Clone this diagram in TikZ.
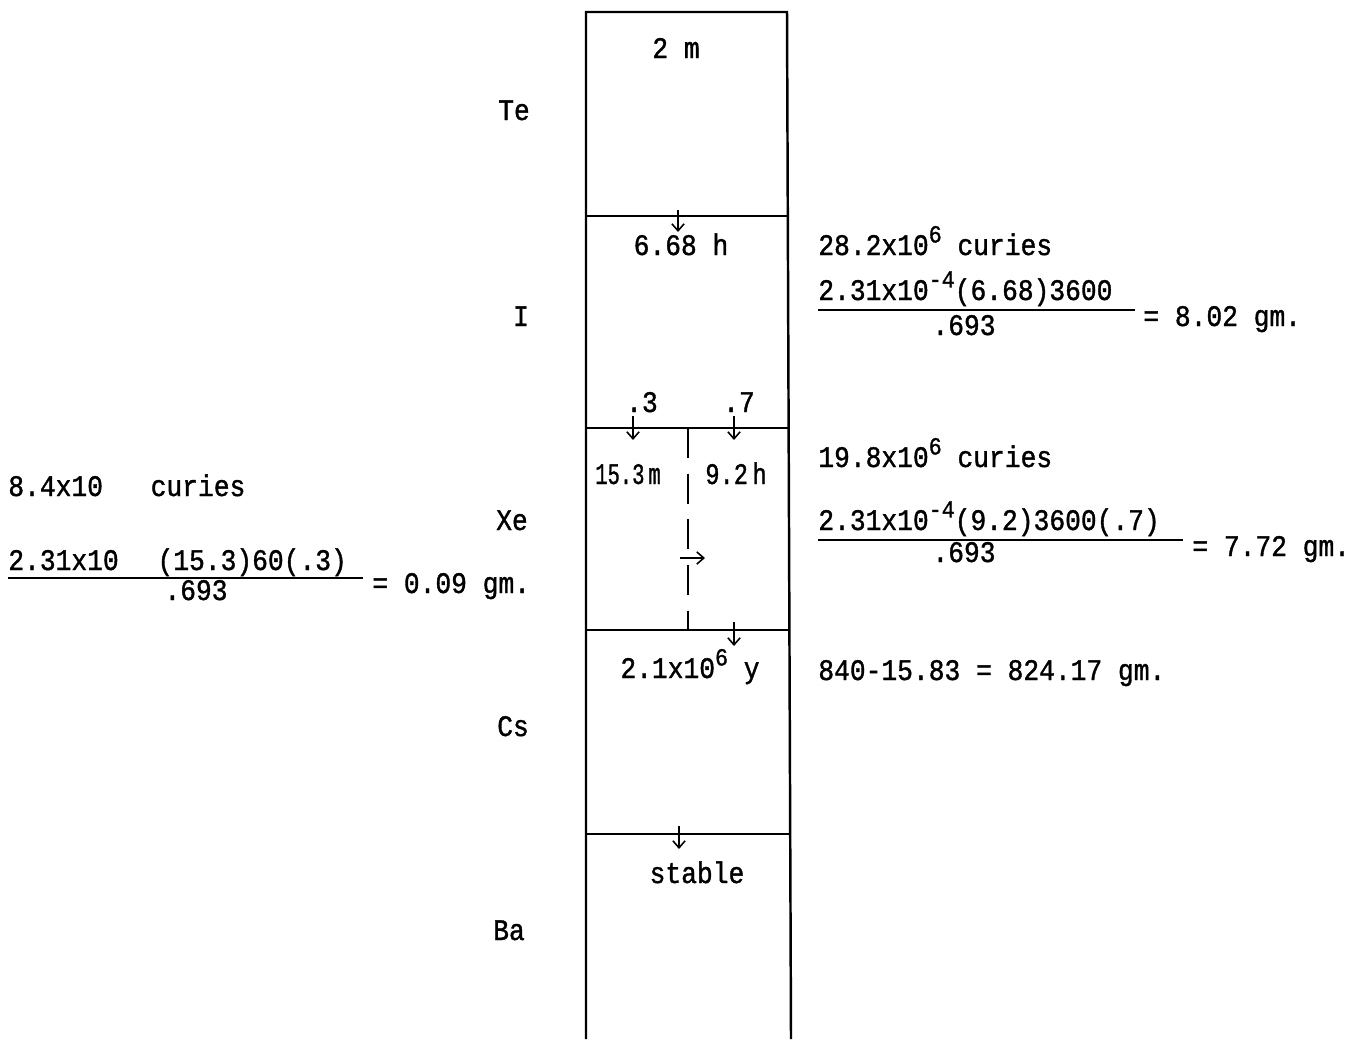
\documentclass[tikz,border=0pt]{standalone}
\usepackage{fontspec}
\setmainfont{Liberation Mono}[FakeStretch=0.88,FakeBold=1.2]
\usetikzlibrary{arrows.meta}
\newcommand{\upx}[1]{\raisebox{0.42em}{\fontsize{14}{16}\selectfont #1}}
\begin{document}
\begin{tikzpicture}[x=0.02cm,y=-0.02cm,
  wall/.style={line width=1.4pt},
  decay/.style={line width=0.9pt,-{Straight Barb[length=4pt,width=7pt]}},
  txt/.style={font=\fontsize{17}{20}\selectfont,inner sep=0pt,anchor=base west},
  ctxt/.style={font=\fontsize{17}{20}\selectfont,inner sep=0pt,anchor=base},
  frac/.style={line width=1.2pt}]
\useasboundingbox (0,0) rectangle (1365,1039);
% column
\draw[wall] (586,1039) -- (586,12) -- (787,12) -- (791,1039);
\foreach \y in {216,428,630,834} \draw[wall] (586,\y) -- (789,\y);
% dashed divider
\draw[line width=1pt,dash pattern=on 17pt off 9pt] (688,428) -- (688,630);
% decay arrows
\draw[decay] (678,210) -- (678,232);
\draw[decay] (633,416) -- (633,440);
\draw[decay] (734,416) -- (734,440);
\draw[decay] (680,558) -- (705,558);
\draw[decay] (734,622) -- (734,646);
\draw[decay] (679,826) -- (679,849);
% element labels
\node[ctxt] (te) at (514,120) {Te};
\node[ctxt] (i) at (521,326) {I};
\node[ctxt] (xe) at (512,530) {Xe};
\node[ctxt] (cs) at (513,736) {Cs};
\node[ctxt] (ba) at (509,940) {Ba};
% half-lives
\node[ctxt] (h1) at (676,58) {2 m};
\node[ctxt] (h2) at (681,255) {6.68 h};
\node[ctxt] (b3) at (642,412) {.3};
\node[ctxt] (b7) at (739,412) {.7};
\node[ctxt] (h3) at (628,484) {\scalebox{0.78}[1]{15.3\,m}};
\node[ctxt] (h4) at (736,484) {\scalebox{0.9}[1]{9.2\,h}};
\node[ctxt] (h5) at (690,678) {2.1x10\upx{6} y};
\node[ctxt] (h6) at (697,883) {stable};
% right: iodine
\node[txt] (ci1) at (818,255) {28.2x10\upx{6} curies};
\node[txt] (n1) at (818,300) {2.31x10\upx{-4}(6.68)3600};
\draw[frac] (818,310) -- (1135,310);
\node[ctxt] (d1) at (964,335) {.693};
\node[txt] (r1) at (1143,326) {= 8.02 gm.};
% right: xenon
\node[txt] (ci2) at (818,467) {19.8x10\upx{6} curies};
\node[txt] (n2) at (818,530) {2.31x10\upx{-4}(9.2)3600(.7)};
\draw[frac] (818,540) -- (1183,540);
\node[ctxt] (d2) at (964,562) {.693};
\node[txt] (r2) at (1192,556) {= 7.72 gm.};
% right: cesium
\node[txt] (r3) at (818,680) {840-15.83 = 824.17 gm.};
% left: xenon 15.3 m
\node[txt] (ci3) at (8,496) {8.4x10\hspace{1.6em}curies};
\node[txt] (n3) at (8,570) {2.31x10\hspace{1.3em}(15.3)60(.3)};
\draw[frac] (8,578) -- (363,578);
\node[ctxt] (d3) at (196,600) {.693};
\node[txt] (r4) at (372,593) {= 0.09 gm.};
\end{tikzpicture}
\end{document}
